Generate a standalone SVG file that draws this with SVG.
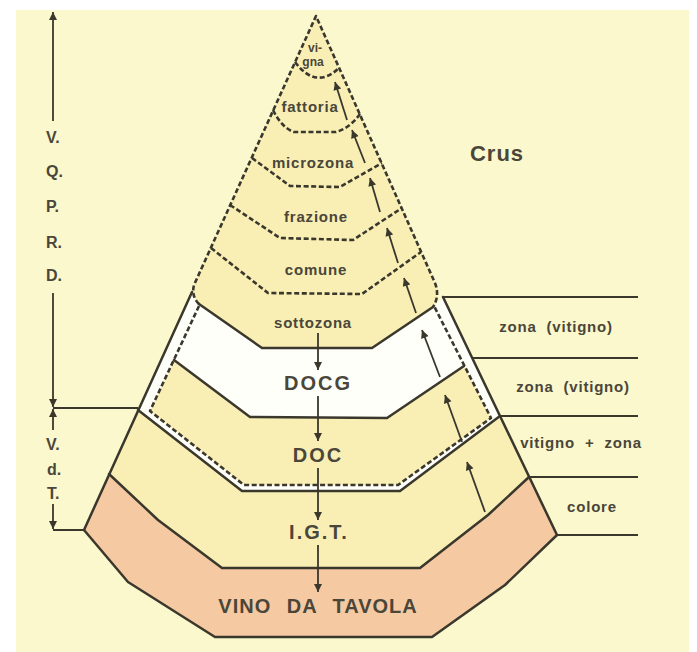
<svg xmlns="http://www.w3.org/2000/svg" width="697" height="652" viewBox="0 0 697 652">
<defs>
<style>
.solid{fill:none;stroke:#3a372c;stroke-width:2.5;stroke-linejoin:round;stroke-linecap:round}
.thin{fill:none;stroke:#3a372c;stroke-width:2}
.dash{fill:none;stroke:#3a372c;stroke-width:2.6;stroke-dasharray:5 2.6;stroke-linejoin:round}
.arr{fill:none;stroke:#3a372c;stroke-width:1.8;marker-end:url(#ah)}
.yel{fill:#f9efb5}
.t{font-family:"Liberation Sans",Arial,sans-serif;font-weight:bold;fill:#4a4639}
.sm{font-size:15px;letter-spacing:0.8px;text-anchor:middle}
.big{font-size:20px;letter-spacing:2px;text-anchor:middle}
.rl{font-size:15px;letter-spacing:0.8px;word-spacing:5px;text-anchor:middle}
.ax{font-size:16px}
</style>
<marker id="ah" viewBox="0 0 10 10" refX="10" refY="5" markerWidth="10" markerHeight="8" markerUnits="userSpaceOnUse" orient="auto">
<path d="M0,0 L10,5 L0,10 z" fill="#3a372c"/>
</marker>
</defs>
<rect x="0" y="0" width="697" height="652" fill="#ffffff"/>
<rect x="16" y="10" width="673" height="642" fill="#fbf8cd"/>

<g id="docg">
<polygon points="192,292 199,304 262,348 372,348 433,307 443,297 500,416 400,491 242,491 138,410" fill="#fffffa"/>
<text class="t big" x="318" y="390">DOCG</text>
</g>

<g id="cone">
<path class="yel" d="M316,16 L194,285 Q191,296 199,304 L262,348 L372,348 L433,307 Q440,296 435,283 Z"/>
<path class="dash" d="M199,304 Q191,296 194,285 L316,16 L435,283 Q440,296 433,307"/>
<path class="dash" d="M295,62 Q316,90 339,68"/>
<path class="dash" d="M273,110 Q282,128 294,132 L336,132 Q350,128 360,114"/>
<path class="dash" d="M252,158 L290,186 L340,187 L382,163"/>
<path class="dash" d="M230,205 L280,238 L353,240 L402,208"/>
<path class="dash" d="M211,248 L268,293 L362,294 L421,252"/>
<polyline class="solid" points="199,304 262,348 372,348 433,307"/>
<text class="t" x="315" y="52" font-size="12" text-anchor="middle">vi-</text>
<text class="t" x="313" y="66" font-size="12" text-anchor="middle">gna</text>
<text class="t sm" x="310" y="112">fattoria</text>
<text class="t sm" x="313" y="168">microzona</text>
<text class="t sm" x="316" y="222">frazione</text>
<text class="t sm" x="316" y="275">comune</text>
<text class="t sm" x="313" y="328">sottozona</text>
</g>

<g id="doc">
<polygon class="yel" points="174,360 250,417 387,418 464,366 491,418 398,485 244,485 150,411"/>
<polyline class="solid" points="174,360 250,417 387,418 464,366"/>
<polyline class="dash" points="199,306 150,411 244,485 398,485 491,418 434,306"/>
<text class="t big" x="318" y="462">DOC</text>
</g>

<g id="igt">
<polygon class="yel" points="138,410 242,491 400,491 500,416 529,477 488,515 420,568 222,568 158,520 109,474"/>
<polyline class="solid" points="138,410 242,491 400,491 500,416"/>
<text class="t big" x="319" y="539">I.G.T.</text>
</g>

<g id="vino">
<polygon points="109,474 158,520 222,568 420,568 488,515 529,477 557,535 505,585 432,637 215,637 128,582 84,530" fill="#f5c9a1"/>
<polyline class="solid" points="109,474 158,520 222,568 420,568 488,515 529,477"/>
<polyline class="solid" points="84,530 128,582 215,637 432,637 505,585 557,535"/>
<text class="t" x="318" y="613" font-size="20" letter-spacing="1" word-spacing="9" text-anchor="middle">VINO DA TAVOLA</text>
</g>

<g id="outline">
<line class="solid" x1="192" y1="292" x2="84" y2="530"/>
<line class="solid" x1="443" y1="297" x2="557" y2="535"/>
</g>

<g id="crus">
<text class="t" x="497" y="161" font-size="22" letter-spacing="1" text-anchor="middle">Crus</text>
</g>

<g id="right-labels">
<line class="thin" x1="443" y1="297" x2="638" y2="297"/>
<line class="thin" x1="472" y1="358" x2="638" y2="358"/>
<line class="thin" x1="500" y1="416" x2="638" y2="416"/>
<line class="thin" x1="529" y1="477" x2="638" y2="477"/>
<line class="thin" x1="557" y1="535" x2="638" y2="535"/>
<text class="t rl" x="556" y="332">zona (vitigno)</text>
<text class="t rl" x="573" y="392">zona (vitigno)</text>
<text class="t rl" x="581" y="448">vitigno + zona</text>
<text class="t rl" x="592" y="512">colore</text>
</g>

<g id="vqprd">
<text class="t ax" x="46" y="143">V.</text>
<text class="t ax" x="46" y="177">Q.</text>
<text class="t ax" x="46" y="212">P.</text>
<text class="t ax" x="46" y="248">R.</text>
<text class="t ax" x="46" y="281">D.</text>
</g>
<g id="vdt">
<text class="t ax" x="46" y="450">V.</text>
<text class="t ax" x="47" y="475">d.</text>
<text class="t ax" x="47" y="499">T.</text>
</g>

<g id="connectors">
<line class="arr" x1="53" y1="121" x2="53" y2="12"/>
<line class="arr" x1="53" y1="293" x2="53" y2="407"/>
<line class="arr" x1="53" y1="430" x2="53" y2="409"/>
<line class="arr" x1="53" y1="504" x2="53" y2="529"/>
<line class="thin" x1="53" y1="408" x2="138" y2="408"/>
<line class="thin" x1="53" y1="530" x2="84" y2="530"/>
<line class="arr" x1="318" y1="333" x2="318" y2="370"/>
<line class="arr" x1="318" y1="396" x2="318" y2="441"/>
<line class="arr" x1="318" y1="468" x2="318" y2="520"/>
<line class="arr" x1="318" y1="545" x2="318" y2="592"/>
<line class="arr" x1="485" y1="512" x2="467" y2="462"/>
<line class="arr" x1="462" y1="442" x2="445" y2="395"/>
<line class="arr" x1="440" y1="377" x2="422" y2="330"/>
<line class="arr" x1="416" y1="313" x2="404" y2="278"/>
<line class="arr" x1="398" y1="263" x2="387" y2="228"/>
<line class="arr" x1="380" y1="212" x2="370" y2="178"/>
<line class="arr" x1="365" y1="163" x2="352" y2="130"/>
<line class="arr" x1="347" y1="120" x2="335" y2="82"/>
</g>
</svg>
